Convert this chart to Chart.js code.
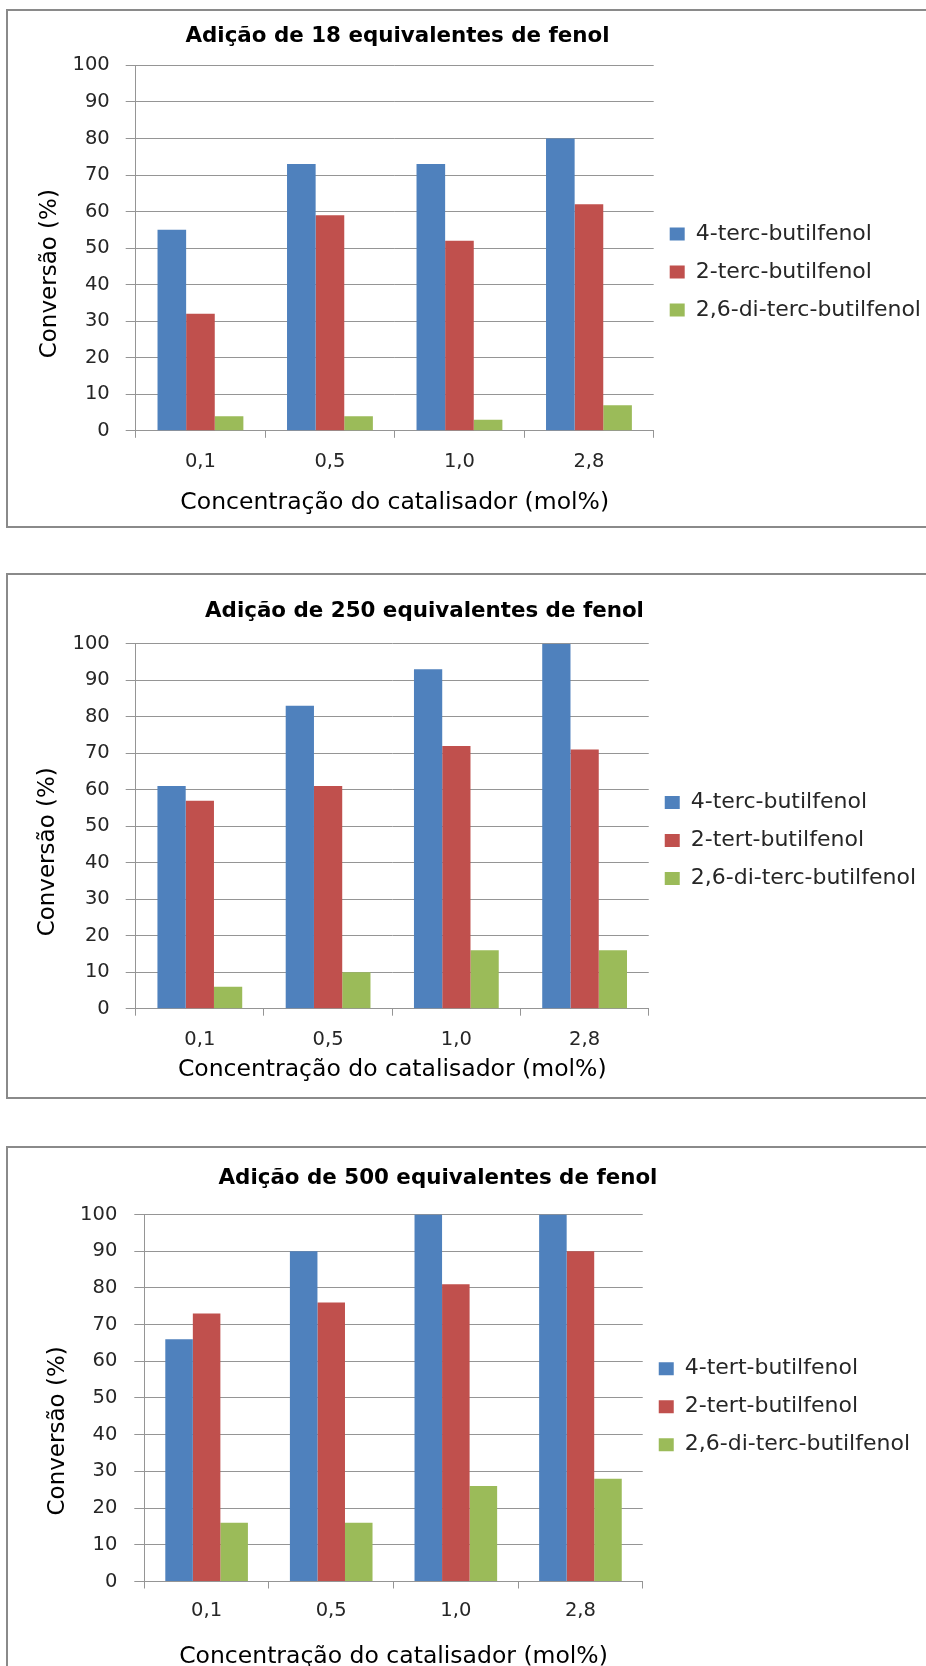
<!DOCTYPE html>
<html>
<head>
<meta charset="utf-8">
<script src="https://cdn.jsdelivr.net/npm/chart.js@4.4.1/dist/chart.umd.min.js"></script>
<style>
  html, body { margin: 0; padding: 0; background: #ffffff; overflow: hidden; }
  #page { position: relative; width: 926px; height: 1666px; overflow: hidden; background: #ffffff; }
  .frame { position: absolute; border: 2px solid #8a8a8a; box-sizing: border-box; }
  canvas { position: absolute; }
</style>
</head>
<body>
<div id="page">
  <div class="frame" style="left:6px; top:9px; width:1000px; height:519px;"></div>
  <div class="frame" style="left:6px; top:573px; width:1000px; height:526px;"></div>
  <div class="frame" style="left:6px; top:1146px; width:1000px; height:600px;"></div>
  <canvas id="chart18" width="1057" height="544" style="left:-131px; top:0px;"></canvas>
  <canvas id="chart250" width="1003" height="562" style="left:-77px; top:560px;"></canvas>
  <canvas id="chart500" width="976" height="534" style="left:-50px; top:1140px;"></canvas>
</div>
<script>
// Catalyst loading (mol%) on the category axis
const categories = ['0,1', '0,5', '1,0', '2,8'];
// Conversion axis ticks (%)
const yTickValues = [0, 10, 20, 30, 40, 50, 60, 70, 80, 90, 100];

const xAxisTitle = 'Concentração do catalisador (mol%)';
const yAxisTitle = 'Conversão (%)';

// 18 equivalents of phenol
const title18 = 'Adição de 18 equivalentes de fenol';
const labels18 = ['4-terc-butilfenol', '2-terc-butilfenol', '2,6-di-terc-butilfenol'];
const para18 = [55, 73, 73, 80];
const orto18 = [32, 59, 52, 62];
const di18 = [4, 4, 3, 7];

// 250 equivalents of phenol
const title250 = 'Adição de 250 equivalentes de fenol';
const labels250 = ['4-terc-butilfenol', '2-tert-butilfenol', '2,6-di-terc-butilfenol'];
const para250 = [61, 83, 93, 100];
const orto250 = [57, 61, 72, 71];
const di250 = [6, 10, 16, 16];

// 500 equivalents of phenol
const title500 = 'Adição de 500 equivalentes de fenol';
const labels500 = ['4-tert-butilfenol', '2-tert-butilfenol', '2,6-di-terc-butilfenol'];
const para500 = [66, 90, 100, 100];
const orto500 = [73, 76, 81, 90];
const di500 = [16, 16, 26, 28];

const seriesColors = ['#4F81BD', '#C0504D', '#9BBB59'];
const FONT = "'DejaVu Sans', Verdana, sans-serif";
const GRID = '#959595';
const TEXT = '#262626';
const TICK_SIZE = 19.5;

function makeChart(id, title, labels, series, L) {
  return new Chart(document.getElementById(id), {
    type: 'bar',
    data: {
      labels: categories,
      datasets: series.map((values, i) => ({
        label: labels[i],
        data: values,
        backgroundColor: seriesColors[i],
        borderWidth: 0,
        categoryPercentage: L.cat,
        barPercentage: 1
      }))
    },
    options: {
      responsive: false,
      animation: false,
      devicePixelRatio: 1,
      layout: { padding: { top: 0, left: L.padX, right: L.padX, bottom: L.padB } },
      plugins: {
        title: {
          display: true,
          text: title,
          color: '#000000',
          font: { family: FONT, size: 21.4, weight: 'bold' },
          padding: { top: L.tTop, bottom: L.tBot }
        },
        legend: {
          position: 'right',
          align: 'center',
          maxWidth: L.legW,
          labels: {
            boxWidth: 15,
            boxHeight: 13,
            padding: 16,
            color: TEXT,
            font: { family: FONT, size: 22 }
          }
        },
        tooltip: { enabled: false }
      },
      scales: {
        x: {
          grid: { display: true, drawOnChartArea: false, drawTicks: true, tickLength: 7, color: GRID, offset: true },
          border: { color: GRID, width: 1 },
          ticks: { padding: L.xTickPad, color: TEXT, font: { family: FONT, size: TICK_SIZE }, maxRotation: 0 },
          title: {
            display: true,
            text: xAxisTitle,
            color: '#000000',
            font: { family: FONT, size: 23.5 },
            padding: { top: 0, bottom: L.xTitleB }
          },
          afterFit(scale) { scale.height = L.xH; }
        },
        y: {
          min: 0,
          max: 100,
          grid: { color: GRID, tickLength: 10 },
          border: { color: GRID, width: 1 },
          ticks: { stepSize: 10, padding: L.yTickPad, color: TEXT, font: { family: FONT, size: TICK_SIZE }, autoSkip: false },
          afterBuildTicks(scale) { scale.ticks = yTickValues.map(v => ({ value: v })); },
          title: {
            display: true,
            text: yAxisTitle + ' '.repeat(L.ySpaces),
            color: '#000000',
            font: { family: FONT, size: 23 },
            padding: { top: L.yTitlePad, bottom: 0 }
          },
          afterFit(scale) { scale.width = L.yW; }
        }
      }
    }
  });
}

makeChart('chart18', title18, labels18, [para18, orto18, di18], {
  cat: 0.663, padX: 0, padB: 0, legW: 272.3, yW: 266.7,
  tTop: 23.4, tBot: 16.3, xH: 113.2, xTitleB: 27.1, xTickPad: 12,
  yTickPad: 16, yTitlePad: 167.2, ySpaces: 7
});

makeChart('chart250', title250, labels250, [para250, orto250, di250], {
  cat: 0.661, padX: 0, padB: 0.8, legW: 278.3, yW: 212.7,
  tTop: 38.8, tBot: 19.2, xH: 112.5, xTitleB: 37.5, xTickPad: 12.6,
  yTickPad: 16, yTitlePad: 111.2, ySpaces: 7
});

makeChart('chart500', title500, labels500, [para500, orto500, di500], {
  cat: 0.663, padX: 6, padB: 0.6, legW: 285, yW: 188.3,
  tTop: 25.8, tBot: 23.0, xH: 91.9, xTitleB: 2.7, xTickPad: 11,
  yTickPad: 17, yTitlePad: 88.2, ySpaces: 9
});
</script>
</body>
</html>
